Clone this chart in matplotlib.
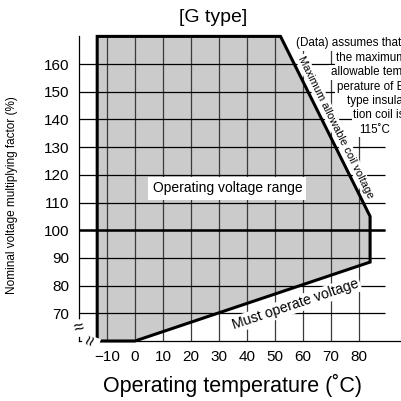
import numpy as np
import matplotlib
matplotlib.use("Agg")
import matplotlib.pyplot as plt

plt.rcParams['font.family'] = ['Liberation Sans', 'DejaVu Sans']

# borde de la zona de funcionamiento (temperatura en C, factor de tension en %)
zona_temp = [-13.5, -13.5, 52, 84, 84, 0, -13.5]
zona_volt = [60, 170, 170, 105, 88.5, 60, 60]

# tramos rotulados del borde
max_temp = [52, 84]
max_volt = [170, 105]
min_temp = [0, 84]
min_volt = [60, 88.5]

ticks_x = [-10, 0, 10, 20, 30, 40, 50, 60, 70, 80]
ticks_y = [70, 80, 90, 100, 110, 120, 130, 140, 150, 160]

nota = ["(Data) assumes that", "the maximum", "allowable tem-", "perature of E",
        "type insula-", "tion coil is", "115˚C"]
nota_x = [57.5, 71.8, 69.9, 72.1, 75.7, 77.9, 80.0]
nota_y = [167.5, 162.3, 157.1, 151.9, 146.8, 141.5, 136.3]

fig = plt.figure(figsize=(4.02, 4.01), dpi=100)
ax = fig.add_axes([79 / 402, 60 / 401, 323 / 402, 304.6 / 401])
ax.set_xlim(-20, 95.4)
ax.set_ylim(60, 170)

#ZONA GRIS Y REJILLA
ax.fill(zona_temp, zona_volt, color='#cbcbcb', zorder=1)
ax.vlines(ticks_x, 60, 170, color='#3a3a3a', linewidth=0.9, zorder=2)
ax.hlines(ticks_y, -20, 89.5, color='black', linewidth=0.9, zorder=2)
ax.hlines(100, -20, 89.5, color='black', linewidth=1.8, zorder=3)
ax.plot(zona_temp, zona_volt, color='black', linewidth=2.2, zorder=4,
        solid_joinstyle='miter', clip_on=False)

for s in ['top', 'right']:
    ax.spines[s].set_visible(False)
ax.spines['left'].set_linewidth(0.9)
ax.spines['bottom'].set_linewidth(0.9)

ax.set_xticks(ticks_x)
ax.set_yticks(ticks_y)
ax.tick_params(length=0, labelsize=11)
ax.tick_params(axis='y', pad=7)
ax.tick_params(axis='x', pad=6.5)

#CORTES DE LOS EJES
ax.text(0, 64.6, '≈', transform=ax.get_yaxis_transform(), ha='center', va='center',
        fontsize=13, rotation=15, bbox=dict(facecolor='white', edgecolor='none', pad=0),
        zorder=5, clip_on=False)
ax.text(-15.6, 60, '≈', ha='center', va='center', fontsize=13, rotation=70,
        bbox=dict(facecolor='white', edgecolor='none', pad=0), zorder=5, clip_on=False)

#ROTULOS
fig.canvas.draw()
p = ax.transData.transform(np.column_stack([max_temp, max_volt]))
ang_max = np.degrees(np.arctan2(p[1, 1] - p[0, 1], p[1, 0] - p[0, 0]))
p = ax.transData.transform(np.column_stack([min_temp, min_volt]))
ang_min = np.degrees(np.arctan2(p[1, 1] - p[0, 1], p[1, 0] - p[0, 0]))

caja = dict(facecolor='white', edgecolor='none', pad=1)
ax.text(33.0, 115.1, 'Operating voltage range', ha='center', va='center', fontsize=10,
        bbox=dict(facecolor='white', edgecolor='none', pad=3), zorder=6)
ax.text(71.8, 137.2, 'Maximum allowable coil voltage', ha='center', va='center',
        fontsize=8, rotation=ang_max, rotation_mode='anchor', bbox=caja, zorder=6)
ax.text(57.5, 73.2, 'Must operate voltage', ha='center', va='center',
        fontsize=10.2, rotation=ang_min, rotation_mode='anchor', bbox=caja, zorder=6)

for t, x, y in zip(nota, nota_x, nota_y):
    ax.text(x, y, t, ha='left', va='center', fontsize=8.4, bbox=caja, zorder=6,
            clip_on=False)

fig.text(213.5 / 402, 1 - 17 / 401, '[G type]', ha='center', va='center', fontsize=14)
fig.text(233 / 402, 1 - 385 / 401, 'Operating temperature (˚C)', ha='center', va='center',
         fontsize=15.5)
fig.text(12 / 402, 1 - 195 / 401, 'Nominal voltage multiplying factor (%)', ha='center',
         va='center', rotation=90, fontsize=8.5)

fig.savefig('out.png', dpi=100)
